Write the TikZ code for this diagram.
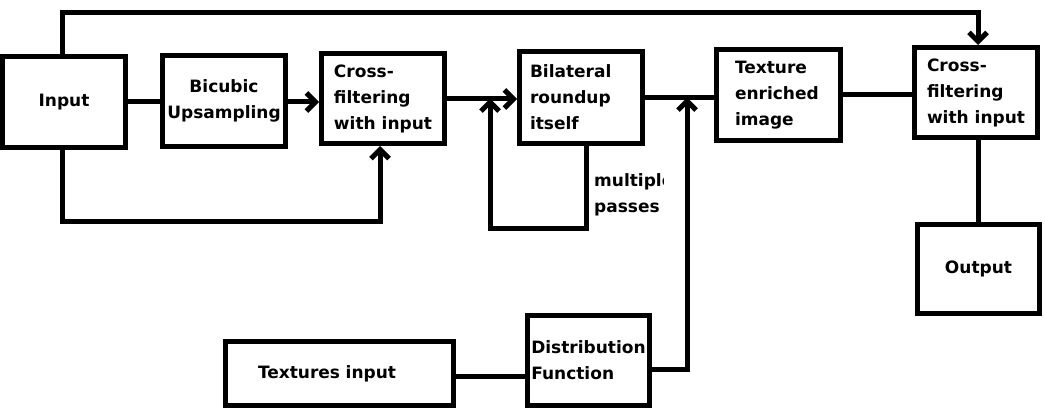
\documentclass[tikz,border=0pt]{standalone}
\usepackage{fontspec}
\setmainfont{DejaVu Sans}
\usetikzlibrary{arrows.meta}
\tikzset{
	blk/.style={draw, line width=5pt, minimum width=123pt, minimum height=91pt, inner sep=0pt, align=left, font=\bfseries\fontsize{17}{26}\selectfont},
	lbl/.style={inner sep=0pt, align=left, font=\bfseries\fontsize{17}{26}\selectfont},
	wire/.style={line width=5pt},
	arr/.style={wire, -{Straight Barb[length=9pt,width=18pt]}}
}

\begin{document}
\begin{tikzpicture}[x=1pt,y=-1pt]
			%%%%% START %%%%%
			\useasboundingbox (0,0) rectangle (1045,420);
			
			\node[blk, align=center] (in) at (64,102) {Input};
			\node[blk, align=center] (bic) at (224,101) {Bicubic\\Upsampling};
			\node[blk, minimum height=90pt] (cfa) at (383,98.5) {Cross-\\filtering\\with input};
			\node[blk, minimum height=92pt, text width=102pt, inner xsep=10.5pt] (bil) at (581,97.5) {Bilateral\\roundup\\itself};
			\node[blk, minimum width=124pt, text width=87pt, inner xsep=18.5pt] (tex) at (778.5,95) {Texture\\enriched\\image};
			\node[blk, minimum height=90pt] (cfb) at (976,92.5) {Cross-\\filtering\\with input};
			\node[blk, align=center, minimum width=122pt, minimum height=89pt] (out) at (978.5,269) {Output};
			\node[blk, minimum height=64pt, text width=163pt, inner xsep=32.5pt] (txi) at (339.5,373.5) {Textures input};
			\node[blk, minimum width=122pt, minimum height=90pt] (dist) at (588.5,360.5) {Distribution\\Function};
			
			\coordinate (top) at (0,13);
			\coordinate (bot) at (0,221);
			\coordinate (loop) at (490,228);
			\coordinate (up) at (687,97.5);
			
			% main line
			\draw[wire] (in.east) -- (in.east -| bic.west);
			\draw[arr] ([yshift=-1pt]bic.east) -- ([yshift=-1pt]bic.east -| cfa.west);
			\draw[arr] ([yshift=-0.5pt]cfa.east) -- ([yshift=-0.5pt]cfa.east -| bil.west);
			\draw[wire] (bil.east) -- (bil.east -| tex.west);
			\draw[wire] (tex.east) -- (tex.east -| cfb.west);
			\draw[wire] ([xshift=2pt]cfb.south) -- ([xshift=2pt]cfb.south |- out.north);
			
			% bypass lines from input
			\draw[arr] ([xshift=-2pt]in.north) |- ([xshift=2pt]cfb.north |- top) -- ([xshift=2pt]cfb.north);
			\draw[arr] ([xshift=-2pt]in.south) |- ([xshift=-3pt]cfa.south |- bot) -- ([xshift=-3pt]cfa.south);
			
			% multiple passes
			\draw[arr] ([xshift=5pt]bil.south) |- (loop) -- ([yshift=-1pt]loop |- bil.west);
			\begin{scope}
				\clip (588,165) rectangle (663,225);
				\node[lbl, anchor=west] (mp) at (594,195) {multiple\\passes};
			\end{scope}
			
			% textures
			\draw[wire] ([yshift=-2.5pt]txi.east) -- ([yshift=-2.5pt]txi.east -| dist.west);
			\draw[arr] ([yshift=-9pt]dist.east) -| (up);
			
			%%%%% END %%%%%
		\end{tikzpicture}
\end{document}
